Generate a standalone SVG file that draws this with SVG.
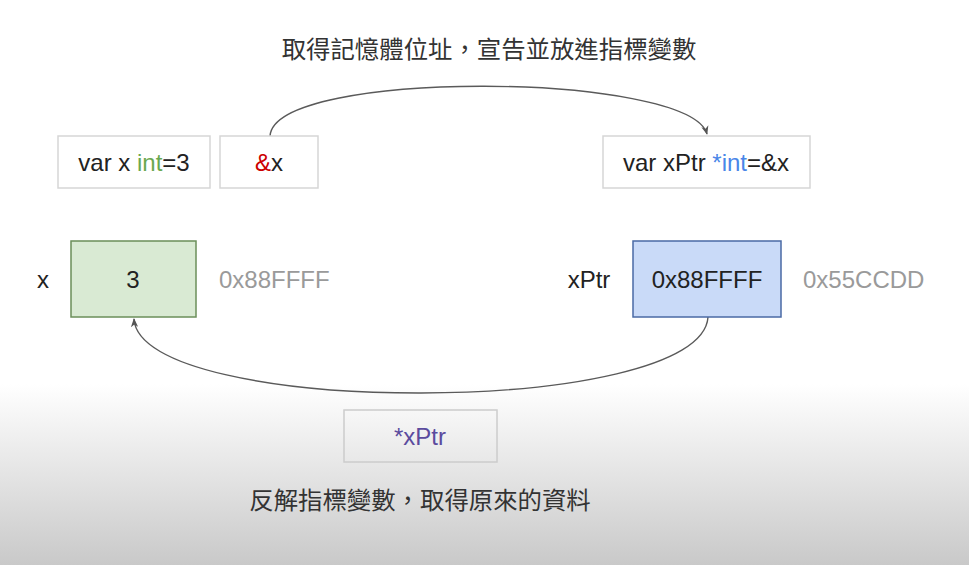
<svg xmlns="http://www.w3.org/2000/svg" width="969" height="565" viewBox="0 0 969 565">
<defs>
<linearGradient id="bg" x1="0" y1="0" x2="0" y2="1">
<stop offset="0" stop-color="#ffffff"/>
<stop offset="0.68" stop-color="#ffffff"/>
<stop offset="1" stop-color="#c9c9c9"/>
</linearGradient>
<marker id="arr" viewBox="0 0 10 10" refX="9" refY="5" markerWidth="9" markerHeight="9" markerUnits="userSpaceOnUse" orient="auto">
<path d="M0,1 L10,5 L0,9 L3,5 Z" fill="#555555"/>
</marker>
<style>
.t{font-family:"Liberation Sans",Arial,sans-serif;font-size:24px;fill:#222222;}
.cjk{font-family:"Noto Sans CJK TC","Noto Sans CJK SC",sans-serif;font-size:24.4px;fill:#333333;}
.gray{fill:#9a9a9a;}
.box{fill:#ffffff;stroke:#d6d6d6;stroke-width:1.5;}
.conn{fill:none;stroke:#5a5a5a;stroke-width:1.4;}
</style>
</defs>
<rect x="0" y="0" width="969" height="565" fill="url(#bg)"/>
<text class="cjk" x="489" y="58" text-anchor="middle">取得記憶體位址，宣告並放進指標變數</text>
<text class="cjk" x="420" y="509" text-anchor="middle">反解指標變數，取得原來的資料</text>
<g id="connectors">
<path class="conn" d="M270,136 C275,68 690,72 707,134" marker-end="url(#arr)"/>
<path class="conn" d="M708,317 C702,418 140,418 134,319" marker-end="url(#arr)"/>
</g>
<g id="node-varx">
<rect class="box" x="58" y="136" width="152" height="52"/>
<text class="t" x="134" y="171" text-anchor="middle">var x <tspan fill="#6aa84f">int</tspan>=3</text>
</g>
<g id="node-addr">
<rect class="box" x="220" y="136" width="98" height="52"/>
<text class="t" x="269" y="171" text-anchor="middle"><tspan fill="#cc0000">&amp;</tspan>x</text>
</g>
<g id="node-varxptr">
<rect class="box" x="603" y="136" width="207" height="52"/>
<text class="t" x="706" y="171" text-anchor="middle">var xPtr <tspan fill="#4a86e8">*int</tspan>=&amp;x</text>
</g>
<g id="node-x">
<text class="t" x="43" y="288" text-anchor="middle">x</text>
<rect x="71" y="241" width="125" height="76" fill="#d9ead3" stroke="#6b8f5a" stroke-width="1.5"/>
<text class="t" x="133" y="288" text-anchor="middle">3</text>
<text class="t gray" x="219" y="288">0x88FFFF</text>
</g>
<g id="node-xptr">
<text class="t" x="589" y="288" text-anchor="middle">xPtr</text>
<rect x="633" y="241" width="148" height="76" fill="#c9daf8" stroke="#4a6aa5" stroke-width="1.5"/>
<text class="t" x="707" y="288" text-anchor="middle">0x88FFFF</text>
<text class="t gray" x="803" y="288">0x55CCDD</text>
</g>
<g id="node-deref">
<rect x="344" y="410" width="153" height="52" fill="none" stroke="#cccccc" stroke-width="1.5"/>
<text class="t" x="420" y="445" text-anchor="middle" style="fill:#5b4b9e">*xPtr</text>
</g>
</svg>
